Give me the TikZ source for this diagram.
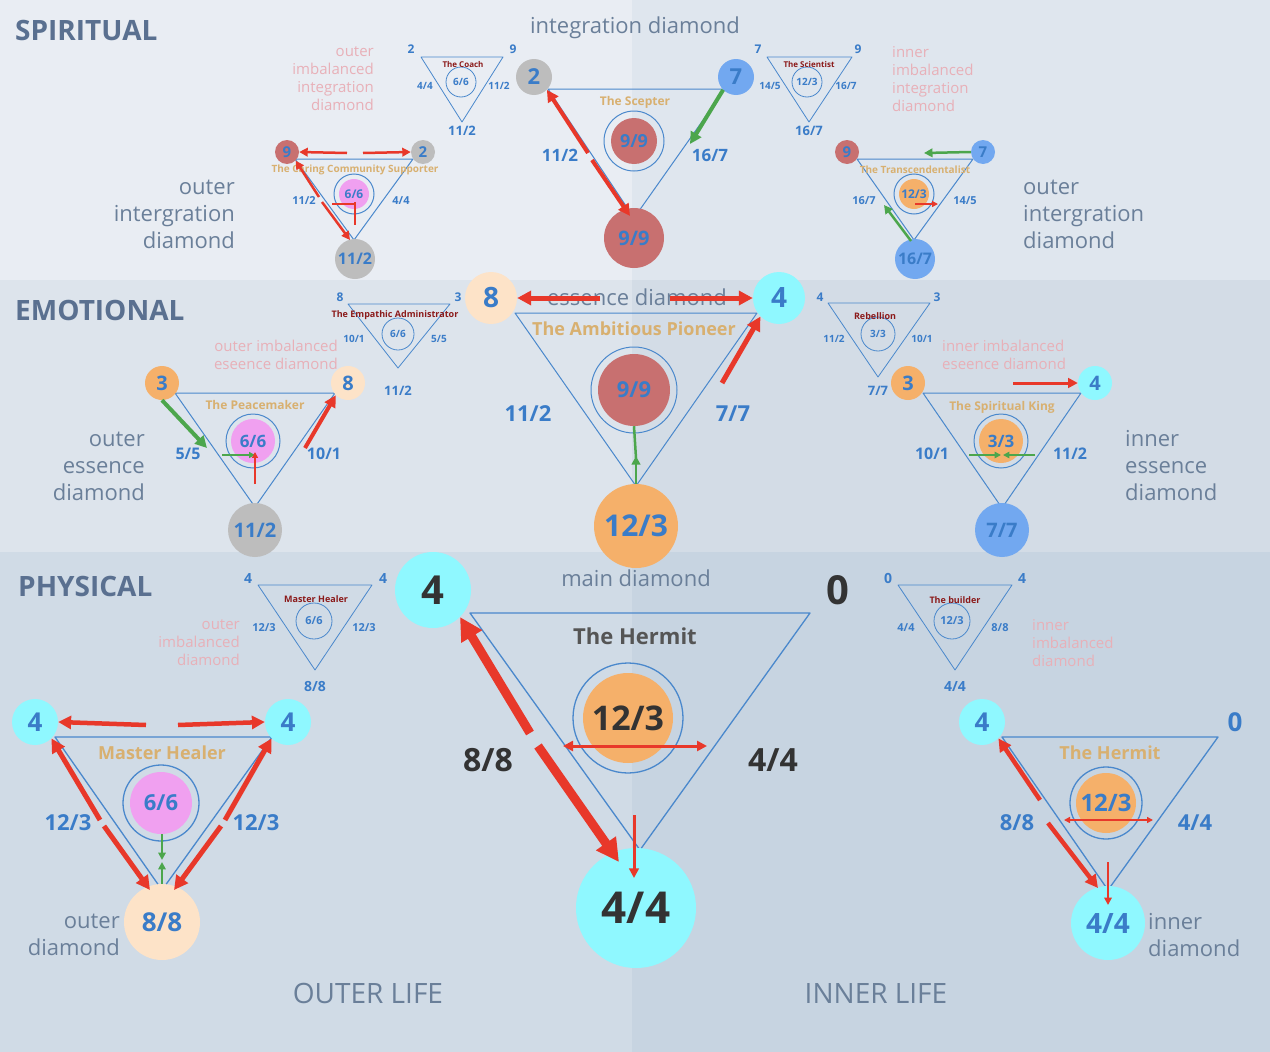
\documentclass[tikz,border=0pt]{standalone}
\usepackage{fontspec}
\setmainfont{Open Sans}
\usetikzlibrary{arrows.meta}
\newcommand{\fs}[1]{\fontsize{#1}{#1}\selectfont}
\definecolor{lb}{HTML}{3A7CC8}
\definecolor{tan}{HTML}{D8B070}
\definecolor{dred}{HTML}{8B1A1A}
\definecolor{pk}{HTML}{E8B0B8}
\definecolor{gr}{HTML}{6A7F99}
\definecolor{rd}{HTML}{E8382A}
\definecolor{gn}{HTML}{4CA64C}
\definecolor{cgray}{HTML}{BDBDBD}
\definecolor{cred}{HTML}{C87070}
\definecolor{cblue}{HTML}{72A8F0}
\definecolor{corg}{HTML}{F5B06A}
\definecolor{cbei}{HTML}{FDE3C8}
\definecolor{ccy}{HTML}{8FF8FF}
\definecolor{cpk}{HTML}{F0A0F0}
\definecolor{tri}{HTML}{4A88CC}
\definecolor{bga}{HTML}{E9EDF3}
\definecolor{bgb}{HTML}{DFE6EE}
\definecolor{bgc}{HTML}{DDE4EC}
\definecolor{bgd}{HTML}{D3DCE6}
\definecolor{bge}{HTML}{D0DBE6}
\definecolor{bgf}{HTML}{C7D4E1}
\definecolor{dk}{HTML}{333333}
\definecolor{dg}{HTML}{555555}
\definecolor{sec}{HTML}{5A7090}
\tikzset{
 lbl/.style={text=lb,font=\bfseries\fs{#1},inner sep=0pt},
 ttl/.style={text=tan,font=\bfseries\fs{#1},inner sep=0pt},
 sttl/.style={text=dred,font=\bfseries\fs{8},inner sep=0pt},
 pkt/.style={text=pk,font=\fontsize{15}{18}\selectfont,align=#1,inner sep=0pt},
 grt/.style={text=gr,font=\fontsize{22}{27}\selectfont,align=#1,inner sep=0pt},
 ball/.style={circle,fill=#1,inner sep=0pt,text=lb,font=\bfseries},
 ring/.style={circle,draw=tri,line width=1pt,inner sep=0pt},
 trid/.style={draw=tri,line width=1pt,line join=round},
 ra/.style={draw=rd,line width=#1,-{Triangle[length=2.2*#1+3pt,width=2.2*#1+3pt]}},
 ga/.style={draw=gn,line width=#1,-{Triangle[length=2.2*#1+3pt,width=2.2*#1+3pt]}},
 ra/.default=3pt, ga/.default=3pt,
}
\begin{document}
\begin{tikzpicture}[x=1pt,y=-1pt]
\useasboundingbox (0,0) rectangle (1270,1052);
% backgrounds
\fill[bga] (0,0) rectangle (632,280);
\fill[bgb] (632,0) rectangle (1270,280);
\fill[bgc] (0,280) rectangle (632,552);
\fill[bgd] (632,280) rectangle (1270,552);
\fill[bge] (0,552) rectangle (632,1052);
\fill[bgf] (632,552) rectangle (1270,1052);
% section labels
\node[anchor=west,text=sec,font=\bfseries\fs{28},inner sep=0pt] (sp) at (15,30) {SPIRITUAL};
\node[anchor=west,text=sec,font=\bfseries\fs{28},inner sep=0pt] (em) at (15,310) {EMOTIONAL};
\node[anchor=west,text=sec,font=\bfseries\fs{28},inner sep=0pt] (ph) at (18,586) {PHYSICAL};
\node[grt=center] (t1) at (635,28) {integration diamond};
\node[grt=center] (t2) at (637,297) {essence diamond};
\node[grt=center] (t3) at (636,578) {main diamond};
\node[grt=center,font=\fs{28}] (ol) at (368,993) {OUTER LIFE};
\node[grt=center,font=\fs{28}] (il) at (876,993) {INNER LIFE};

%%%% SPIRITUAL main
\draw[trid] (548,89) -- (725,89) -- (634,218) -- cycle;
\node[ball=cgray,minimum size=36pt,font=\bfseries\fs{22}] (s2) at (534,77) {2};
\node[ball=cblue,minimum size=36pt,font=\bfseries\fs{22}] (s7) at (736,77) {7};
\node[ball=cred,minimum size=60pt,font=\bfseries\fs{20}] (s99) at (634,238) {9/9};
\node[ring,minimum size=60pt] (sr) at (634,141) {};
\node[ball=cred,minimum size=46pt,font=\bfseries\fs{18}] (sc) at (634,141) {9/9};
\node[ttl=12] (sst) at (635,102) {The Scepter};
\node[lbl=17] (sl1) at (560,155) {11/2};
\node[lbl=17] (sl2) at (710,155) {16/7};
\draw[ra=4pt] (588,153) -- (s2.south east);
\draw[ra=4pt] (592,160) -- (630,216);
\draw[ga=4pt] (s7.south west) -- (690,144);
% small triangles
\draw[trid,line width=0.8pt] (421,57) -- (503,57) -- (462,122) -- cycle;
\node[ring,minimum size=30pt,line width=0.8pt,lbl=10] (cc) at (461,82) {6/6};
\node[sttl] (cct) at (463,64) {The Coach};
\node[lbl=12] (c1) at (411,49) {2};\node[lbl=12] (c2) at (513,49) {9};
\node[lbl=10] (c3) at (425,86) {4/4};\node[lbl=10] (c4) at (499,86) {11/2};\node[lbl=13] (c5) at (462,131) {11/2};
\draw[trid,line width=0.8pt] (767,57) -- (852,57) -- (809,122) -- cycle;
\node[ring,minimum size=30pt,line width=0.8pt,lbl=10] (scc) at (807,82) {12/3};
\node[sttl] (sct) at (809,64) {The Scientist};
\node[lbl=12] (d1) at (758,49) {7};\node[lbl=12] (d2) at (858,49) {9};
\node[lbl=10] (d3) at (770,86) {14/5};\node[lbl=10] (d4) at (846,86) {16/7};\node[lbl=13] (d5) at (809,131) {16/7};
\node[pkt=right,anchor=north east] (p1) at (374,46) {outer\\imbalanced\\integration\\diamond};
\node[pkt=left,anchor=north west] (p2) at (892,46) {inner\\imbalanced\\integration\\diamond};
\node[grt=right,anchor=east] (g1) at (235,214) {outer\\intergration\\diamond};
\node[grt=left,anchor=west] (g2) at (1023,214) {outer\\intergration\\diamond};
% caring community
\draw[trid] (295,159) -- (413,159) -- (354,240) -- cycle;
\node[ball=cred,minimum size=24pt,font=\bfseries\fs{15}] (a9) at (287,152) {9};
\node[ball=cgray,minimum size=24pt,font=\bfseries\fs{15}] (a2) at (423,152) {2};
\node[ball=cgray,minimum size=40pt,font=\bfseries\fs{16}] (a11) at (355,259) {11/2};
\node[ttl=10] (at) at (355,170) {The Caring Community Supporter};
\node[ring,minimum size=40pt] (ar) at (354,194) {};
\node[ball=cpk,minimum size=30pt,font=\bfseries\fs{12}] (ac) at (354,194) {6/6};
\node[lbl=11] (al1) at (304,201) {11/2};\node[lbl=11] (al2) at (401,201) {4/4};
\draw[ra=2.5pt] (347,153) -- (a9.east);
\draw[ra=2.5pt] (363,153) -- (a2.west);
\draw[ra=2.5pt] (319,197) -- (a9.south east);
\draw[ra=2.5pt] (322,202) -- (350,240);
\draw[draw=rd,line width=1.3pt] (332,204) -- (355,204) (355,202) -- (355,225);
% transcendentalist
\draw[trid] (857,159) -- (973,159) -- (914,240) -- cycle;
\node[ball=cred,minimum size=24pt,font=\bfseries\fs{15}] (b9) at (847,152) {9};
\node[ball=cblue,minimum size=24pt,font=\bfseries\fs{15}] (b7) at (983,152) {7};
\node[ball=cblue,minimum size=40pt,font=\bfseries\fs{16}] (b16) at (915,259) {16/7};
\node[ttl=10] (bt) at (915,170) {The Transcendentalist};
\node[ring,minimum size=40pt] (br) at (914,194) {};
\node[ball=corg,minimum size=30pt,font=\bfseries\fs{12}] (bc) at (914,194) {12/3};
\node[lbl=11] (bl1) at (864,201) {16/7};\node[lbl=11] (bl2) at (965,201) {14/5};
\draw[ga=2.5pt] (b7.west) -- (924,153);
\draw[ga=2.5pt] (911,241) -- (884,205);
\draw[ra=1.3pt] (915,204) -- (938,204);

%%%% EMOTIONAL main
\draw[trid] (515,313) -- (757,313) -- (636,486) -- cycle;
\node[ball=cbei,minimum size=52pt,font=\bfseries\fs{28}] (e8) at (491,298) {8};
\node[ball=ccy,minimum size=52pt,font=\bfseries\fs{28}] (e4) at (779,298) {4};
\node[ttl=18] (et) at (634,329) {The Ambitious Pioneer};
\node[ring,minimum size=86pt] (er) at (634,390) {};
\node[ball=cred,minimum size=72pt,font=\bfseries\fs{22}] (ec) at (634,390) {9/9};
\node[ball=corg,minimum size=84pt,font=\bfseries\fs{30}] (e12) at (636,526) {12/3};
\node[lbl=22] (el1) at (528,414) {11/2};\node[lbl=22] (el2) at (733,414) {7/7};
\draw[ra=5pt] (600,298) -- (e8.east);
\draw[ra=5pt] (670,298) -- (e4.west);
\draw[ra=5pt] (722,383) -- (e4.south west);
\draw[ga=2.5pt] (e12.north) -- (636,456);
\draw[draw=gn,line width=2.5pt] (636,458) -- (ec.south);
% small
\draw[trid,line width=0.8pt] (348,304) -- (450,304) -- (398,368) -- cycle;
\node[ring,minimum size=32pt,line width=0.8pt,lbl=10] (fc) at (398,334) {6/6};
\node[sttl,font=\bfseries\fs{9}] (ft) at (395,315) {The Empathic Administrator};
\node[lbl=12] (f1) at (340,297) {8};\node[lbl=12] (f2) at (458,297) {3};
\node[lbl=10] (f3) at (354,339) {10/1};\node[lbl=10] (f4) at (439,339) {5/5};\node[lbl=13] (f5) at (398,391) {11/2};
\draw[trid,line width=0.8pt] (828,303) -- (930,303) -- (878,377) -- cycle;
\node[ring,minimum size=34pt,line width=0.8pt,lbl=10] (hc) at (878,334) {3/3};
\node[sttl,font=\bfseries\fs{9}] (ht) at (875,316) {Rebellion};
\node[lbl=12] (h1) at (820,297) {4};\node[lbl=12] (h2) at (937,297) {3};
\node[lbl=10] (h3) at (834,339) {11/2};\node[lbl=10] (h4) at (922,339) {10/1};\node[lbl=13] (h5) at (878,391) {7/7};
\node[pkt=right,anchor=east] (p3) at (338,355) {outer imbalanced\\eseence diamond};
\node[pkt=left,anchor=west] (p4) at (942,355) {inner imbalanced\\eseence diamond};
\node[grt=right,anchor=east] (g3) at (145,466) {outer\\essence\\diamond};
\node[grt=left,anchor=west] (g4) at (1125,466) {inner\\essence\\diamond};
% peacemaker
\draw[trid] (175,393) -- (335,393) -- (255,507) -- cycle;
\node[ball=corg,minimum size=34pt,font=\bfseries\fs{20}] (k3) at (162,383) {3};
\node[ball=cbei,minimum size=34pt,font=\bfseries\fs{20}] (k8) at (348,383) {8};
\node[ball=cgray,minimum size=54pt,font=\bfseries\fs{20}] (k11) at (255,530) {11/2};
\node[ttl=12] (kt) at (255,405) {The Peacemaker};
\node[ring,minimum size=54pt] (kr) at (253,441) {};
\node[ball=cpk,minimum size=44pt,font=\bfseries\fs{17}] (kc) at (253,441) {6/6};
\node[lbl=16] (kl1) at (188,454) {5/5};\node[lbl=16] (kl2) at (324,454) {10/1};
\draw[ga=4pt] (k3.south) -- (207,448);
\draw[ra=4pt] (305,448) -- (k8.south west);
\draw[ga=1.3pt] (222,455) -- (255,455);
\draw[ra=1.3pt] (255,484) -- (255,452);
% spiritual king
\draw[trid] (923,393) -- (1081,393) -- (1002,508) -- cycle;
\node[ball=corg,minimum size=34pt,font=\bfseries\fs{20}] (m3) at (908,383) {3};
\node[ball=ccy,minimum size=34pt,font=\bfseries\fs{20}] (m4) at (1095,383) {4};
\node[ball=cblue,minimum size=54pt,font=\bfseries\fs{20}] (m7) at (1002,530) {7/7};
\node[ttl=12] (mt) at (1002,407) {The Spiritual King};
\node[ring,minimum size=54pt] (mr) at (1001,441) {};
\node[ball=corg,minimum size=44pt,font=\bfseries\fs{17}] (mc) at (1001,441) {3/3};
\node[lbl=16] (ml1) at (932,454) {10/1};\node[lbl=16] (ml2) at (1070,454) {11/2};
\draw[ga=1.5pt] (969,455) -- (1001,455);
\draw[ga=1.5pt] (1035,455) -- (1003,455);
\draw[ra=3pt] (1013,383) -- (m4.west);

%%%% PHYSICAL main
\draw[trid,line width=1.3pt] (470,613) -- (810,613) -- (640,850) -- cycle;
\node[ball=ccy,minimum size=76pt,text=dk,font=\bfseries\fs{40}] (q4) at (433,590) {4};
\node[text=dk,font=\bfseries\fs{40},inner sep=0pt] (q0) at (838,590) {0};
\node[text=dg,font=\bfseries\fs{22},inner sep=0pt] (qt) at (635,636) {The Hermit};
\node[ring,minimum size=110pt,line width=1.3pt] (qr) at (628,718) {};
\node[ball=corg,minimum size=90pt,text=dk,font=\bfseries\fs{34}] (qc) at (628,718) {12/3};
\node[ball=ccy,minimum size=120pt,text=dk,font=\bfseries\fs{44}] (q44) at (636,908) {4/4};
\node[text=dk,font=\bfseries\fs{32},inner sep=0pt] (ql1) at (488,760) {8/8};
\node[text=dk,font=\bfseries\fs{32},inner sep=0pt] (ql2) at (773,760) {4/4};
\draw[draw=rd,line width=3pt,{Triangle[length=10pt,width=10pt]}-{Triangle[length=10pt,width=10pt]}] (563,746) -- (707,746);
\draw[ra=9pt] (530,733) -- (q4.south east);
\draw[ra=9pt] (538,746) -- (619,862);
\draw[ra=3pt] (634,815) -- (634,878);
% small
\draw[trid,line width=0.8pt] (258,585) -- (372,585) -- (315,670) -- cycle;
\node[ring,minimum size=36pt,line width=0.8pt,lbl=11] (nc) at (314,621) {6/6};
\node[sttl,font=\bfseries\fs{9}] (nt) at (316,599) {Master Healer};
\node[lbl=14] (n1) at (248,578) {4};\node[lbl=14] (n2) at (383,578) {4};
\node[lbl=11] (n3) at (264,628) {12/3};\node[lbl=11] (n4) at (364,628) {12/3};\node[lbl=14] (n5) at (315,686) {8/8};
\draw[trid,line width=0.8pt] (898,585) -- (1012,585) -- (955,670) -- cycle;
\node[ring,minimum size=36pt,line width=0.8pt,lbl=11] (oc) at (952,621) {12/3};
\node[sttl,font=\bfseries\fs{9}] (ot) at (955,600) {The builder};
\node[lbl=14] (o1) at (888,578) {0};\node[lbl=14] (o2) at (1022,578) {4};
\node[lbl=11] (o3) at (906,628) {4/4};\node[lbl=11] (o4) at (1000,628) {8/8};\node[lbl=14] (o5) at (955,686) {4/4};
\node[pkt=right,anchor=east] (p5) at (240,643) {outer\\imbalanced\\diamond};
\node[pkt=left,anchor=west] (p6) at (1032,643) {inner\\imbalanced\\diamond};
% master healer
\draw[trid,line width=1.3pt] (55,737) -- (272,737) -- (162,890) -- cycle;
\node[ball=ccy,minimum size=46pt,font=\bfseries\fs{26}] (u1) at (35,722) {4};
\node[ball=ccy,minimum size=46pt,font=\bfseries\fs{26}] (u2) at (288,722) {4};
\node[ball=cbei,minimum size=76pt,font=\bfseries\fs{26}] (u8) at (162,922) {8/8};
\node[ttl=18] (ut) at (162,753) {Master Healer};
\node[ring,minimum size=76pt,line width=1.3pt] (ur) at (161,803) {};
\node[ball=cpk,minimum size=62pt,font=\bfseries\fs{22}] (uc) at (161,803) {6/6};
\node[lbl=22] (ul1) at (68,823) {12/3};\node[lbl=22] (ul2) at (256,823) {12/3};
\draw[ra=4.5pt] (146,725) -- (u1.east);
\draw[ra=4.5pt] (178,725) -- (u2.west);
\draw[ra=5pt] (100,820) -- (u1.south east);
\draw[ra=5pt] (104,826) -- (150,890);
\draw[ra=5pt] (225,820) -- (u2.south west);
\draw[ra=5pt] (221,826) -- (174,890);
\draw[ga=2pt] (162,834) -- (162,860);
\draw[ga=2pt] (u8.north) -- (162,862);
\node[grt=right,anchor=east] (g5) at (120,935) {outer\\diamond};
% inner hermit
\draw[trid,line width=1.3pt] (1002,737) -- (1218,737) -- (1108,890) -- cycle;
\node[ball=ccy,minimum size=46pt,font=\bfseries\fs{26}] (v4) at (982,722) {4};
\node[lbl=26] (v0) at (1235,722) {0};
\node[ball=ccy,minimum size=74pt,font=\bfseries\fs{28}] (v44) at (1108,923) {4/4};
\node[ttl=18] (vt) at (1110,753) {The Hermit};
\node[ring,minimum size=72pt,line width=1.3pt] (vr) at (1106,803) {};
\node[ball=corg,minimum size=60pt,font=\bfseries\fs{24}] (vc) at (1106,803) {12/3};
\node[lbl=22] (vl1) at (1017,823) {8/8};\node[lbl=22] (vl2) at (1195,823) {4/4};
\draw[draw=rd,line width=1.5pt,{Triangle[length=6pt,width=6pt]}-{Triangle[length=6pt,width=6pt]}] (1064,820) -- (1153,820);
\draw[ra=2pt] (1108,862) -- (1108,905);
\draw[ra=4.5pt] (1040,800) -- (v4.south east);
\draw[ra=4.5pt] (1048,823) -- (1098,888);
\node[grt=left,anchor=west] (g6) at (1148,935) {inner\\diamond};
\end{tikzpicture}
\end{document}
